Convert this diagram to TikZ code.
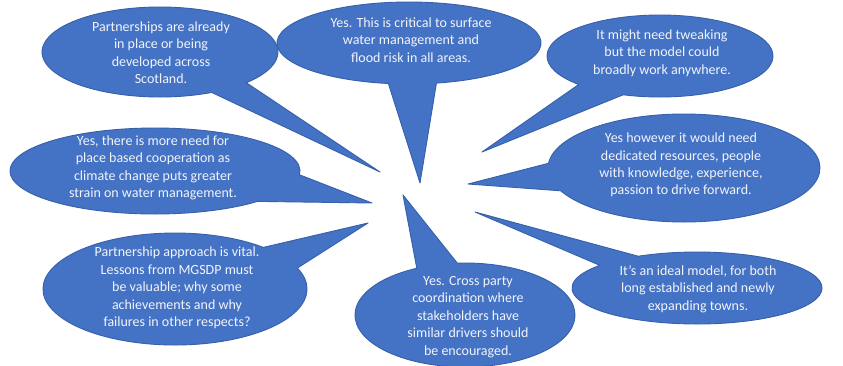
\documentclass[tikz,border=0pt]{standalone}
\usepackage{fontspec}
\setmainfont{Carlito}
\usetikzlibrary{calc}
\definecolor{bfill}{HTML}{4472C4}
\definecolor{bline}{HTML}{3760AA}
\definecolor{btext}{HTML}{F2F4FA}
\tikzset{
  bubble/.style={fill=bfill, draw=bline, line width=0.9pt, line join=round},
  btxt/.style={text=btext, align=center, inner sep=0pt, font=\fontsize{14}{17.4}\selectfont}
}
\newcommand\bubble[6]{%
  \filldraw[bubble] ($(#1)+(#4:#2 and #3)$) -- (#6) -- ($(#1)+(#5:#2 and #3)$)
    arc[start angle=#5, end angle=#4+360, x radius=#2, y radius=#3] -- cycle;}
\begin{document}
\begin{tikzpicture}[x=1pt,y=-1pt]
\useasboundingbox[fill=white] (0,0) rectangle (843,365);
% tail tips
\coordinate (t1) at (380,172);
\coordinate (t2) at (420,183);
\coordinate (t3) at (482,152);
\coordinate (t4) at (468,184);
\coordinate (t5) at (372,203);
\coordinate (t6) at (368,223);
\coordinate (t7) at (403,195);
\coordinate (t8) at (475,212);
% bubbles
\bubble{160,52}{118}{45}{43}{64}{t1}
\bubble{409,43}{132}{41}{78}{99}{t2}
\bubble{660,56}{113}{41}{109}{136}{t3}
\bubble{684,168}{136}{54}{155}{185}{t4}
\bubble{155,171}{145}{43}{5}{45}{t5}
\bubble{175,289}{132}{56}{-48}{-22}{t6}
\bubble{465,315}{110}{52}{-116}{-94}{t7}
\bubble{697,288}{125}{36}{-141}{-118}{t8}
% texts
\node[btxt] (n1) at (161,52.5) {Partnerships are already\\in place or being\\developed across\\Scotland.};
\node[btxt] (n2) at (411,40) {Yes. This is critical to surface\\water management and\\flood risk in all areas.};
\node[btxt] (n3) at (662,53) {It might need tweaking\\but the model could\\broadly work anywhere.};
\node[btxt] (n4) at (681,165) {Yes however it would need\\dedicated resources, people\\with knowledge, experience,\\passion to drive forward.};
\node[btxt] (n5) at (153,168) {Yes, there is more need for\\place based cooperation as\\climate change puts greater\\strain on water management.};
\node[btxt] (n6) at (177,288) {Partnership approach is vital.\\Lessons from MGSDP must\\be valuable; why some\\achievements and why\\failures in other respects?};
\node[btxt] (n7) at (468,317) {Yes. Cross party\\coordination where\\stakeholders have\\similar drivers should\\be encouraged.};
\node[btxt] (n8) at (698,289) {It's an ideal model, for both\\long established and newly\\expanding towns.};
\end{tikzpicture}
\end{document}
